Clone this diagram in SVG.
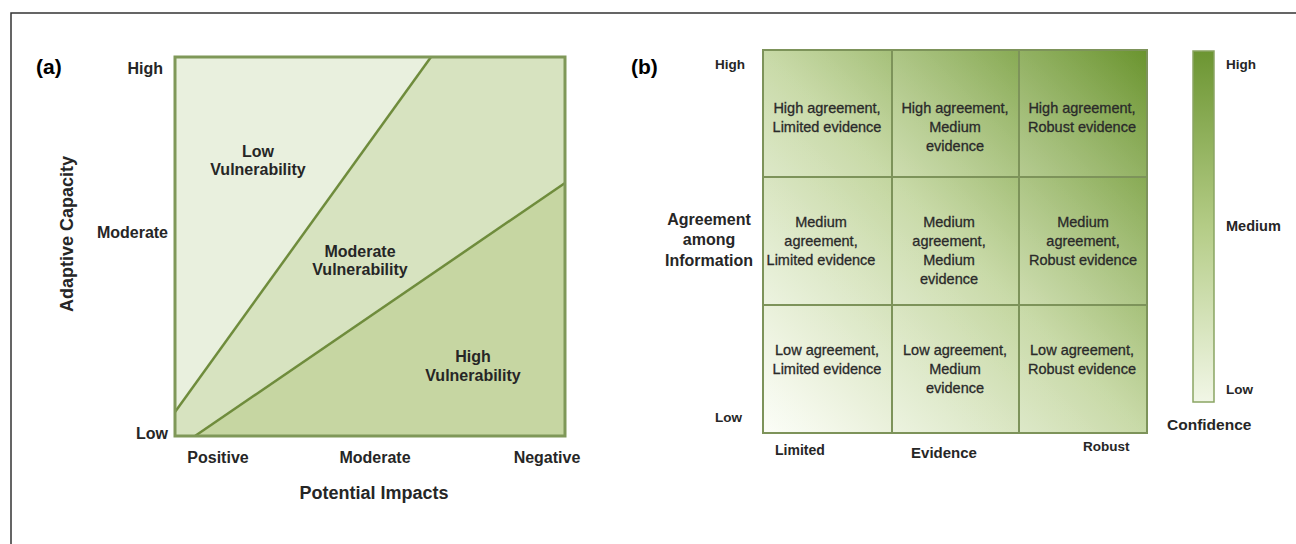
<svg xmlns="http://www.w3.org/2000/svg" width="1296" height="544" viewBox="0 0 1296 544">
<style>
.lbl{font-family:"Liberation Sans",Arial,sans-serif;font-weight:bold;fill:#262626}
.pan{font-family:"Liberation Sans",Arial,sans-serif;font-weight:bold;font-size:21px;fill:#000}
.cell{font-family:"Liberation Sans",Arial,sans-serif;font-size:14.5px;fill:#2a2a2a;stroke:#2a2a2a;stroke-width:0.3;text-anchor:middle}
.div{stroke:#6f8c3c;stroke-width:2.5;fill:none}
.grid{stroke:#7d935a;stroke-width:2;fill:none}
</style>
<defs>
<linearGradient id="gridGrad" x1="0" y1="1" x2="1" y2="0">
<stop offset="0" stop-color="#fbfdf6"/>
<stop offset="0.5" stop-color="#c3d69f"/>
<stop offset="1" stop-color="#6a942e"/>
</linearGradient>
<linearGradient id="cellGrad" x1="0" y1="1" x2="1" y2="0">
<stop offset="0" stop-color="#ffffff" stop-opacity="0.18"/>
<stop offset="1" stop-color="#ffffff" stop-opacity="0"/>
</linearGradient>
<linearGradient id="barGrad" x1="0" y1="0" x2="0" y2="1">
<stop offset="0" stop-color="#6c9532"/>
<stop offset="0.5" stop-color="#b4cc86"/>
<stop offset="1" stop-color="#f1f6e6"/>
</linearGradient>
</defs>
<rect x="0" y="0" width="1296" height="544" fill="#ffffff"/>
<rect id="frame" x="11" y="13" width="1300" height="540" fill="none" stroke="#333" stroke-width="1.5"/>

<g id="panel-a">
<text class="pan" x="36" y="74">(a)</text>
<g id="region-low">
<polygon points="175,57 431,57 175,412" fill="#e9f0de"/>
</g>
<g id="region-moderate">
<polygon points="431,57 565,57 565,183 195,436 175,436 175,412" fill="#d7e3c0"/>
</g>
<g id="region-high">
<polygon points="565,183 565,436 195,436" fill="#c6d6a2"/>
</g>
<g id="connectors-a">
<line class="div" x1="175" y1="412" x2="431" y2="57"/>
<line class="div" x1="195" y1="436" x2="565" y2="183"/>
</g>
<rect x="175" y="57" width="390" height="379" fill="none" stroke="#7f9858" stroke-width="3"/>
<text class="lbl" font-size="16" x="258" y="157" text-anchor="middle">Low</text>
<text class="lbl" font-size="16" x="258" y="175" text-anchor="middle">Vulnerability</text>
<text class="lbl" font-size="16" x="360" y="257" text-anchor="middle">Moderate</text>
<text class="lbl" font-size="16" x="360" y="275" text-anchor="middle">Vulnerability</text>
<text class="lbl" font-size="16" x="473" y="362" text-anchor="middle">High</text>
<text class="lbl" font-size="16" x="473" y="381" text-anchor="middle">Vulnerability</text>
<text class="lbl" font-size="16" x="163" y="74" text-anchor="end">High</text>
<text class="lbl" font-size="16" x="168" y="238" text-anchor="end">Moderate</text>
<text class="lbl" font-size="16" x="168" y="439" text-anchor="end">Low</text>
<text class="lbl" font-size="18" x="73" y="234" text-anchor="middle" transform="rotate(-90 73 234)">Adaptive Capacity</text>
<text class="lbl" font-size="16" x="218" y="463" text-anchor="middle">Positive</text>
<text class="lbl" font-size="16" x="375" y="463" text-anchor="middle">Moderate</text>
<text class="lbl" font-size="16" x="547" y="463" text-anchor="middle">Negative</text>
<text class="lbl" font-size="18" x="374" y="499" text-anchor="middle">Potential Impacts</text>
</g>

<g id="panel-b">
<text class="pan" x="631" y="74">(b)</text>
<rect x="763" y="50" width="384" height="383" fill="url(#gridGrad)"/>
<g id="cell-overlays" fill="url(#cellGrad)">
<rect x="763" y="50" width="129" height="127"/>
<rect x="892" y="50" width="127" height="127"/>
<rect x="1019" y="50" width="128" height="127"/>
<rect x="763" y="177" width="129" height="128"/>
<rect x="892" y="177" width="127" height="128"/>
<rect x="1019" y="177" width="128" height="128"/>
<rect x="763" y="305" width="129" height="128"/>
<rect x="892" y="305" width="127" height="128"/>
<rect x="1019" y="305" width="128" height="128"/>
</g>
<g id="grid-lines">
<rect class="grid" x="763" y="50" width="384" height="383"/>
<line class="grid" x1="892" y1="50" x2="892" y2="433"/>
<line class="grid" x1="1019" y1="50" x2="1019" y2="433"/>
<line class="grid" x1="763" y1="177" x2="1147" y2="177"/>
<line class="grid" x1="763" y1="305" x2="1147" y2="305"/>
</g>
<g id="cell-high-limited"><text class="cell" x="827" y="113">High agreement,</text><text class="cell" x="827" y="132">Limited evidence</text></g>
<g id="cell-high-medium"><text class="cell" x="955" y="113">High agreement,</text><text class="cell" x="955" y="132">Medium</text><text class="cell" x="955" y="151">evidence</text></g>
<g id="cell-high-robust"><text class="cell" x="1082" y="113">High agreement,</text><text class="cell" x="1082" y="132">Robust evidence</text></g>
<g id="cell-medium-limited"><text class="cell" x="821" y="227">Medium</text><text class="cell" x="821" y="246">agreement,</text><text class="cell" x="821" y="265">Limited evidence</text></g>
<g id="cell-medium-medium"><text class="cell" x="949" y="227">Medium</text><text class="cell" x="949" y="246">agreement,</text><text class="cell" x="949" y="265">Medium</text><text class="cell" x="949" y="284">evidence</text></g>
<g id="cell-medium-robust"><text class="cell" x="1083" y="227">Medium</text><text class="cell" x="1083" y="246">agreement,</text><text class="cell" x="1083" y="265">Robust evidence</text></g>
<g id="cell-low-limited"><text class="cell" x="827" y="355">Low agreement,</text><text class="cell" x="827" y="374">Limited evidence</text></g>
<g id="cell-low-medium"><text class="cell" x="955" y="355">Low agreement,</text><text class="cell" x="955" y="374">Medium</text><text class="cell" x="955" y="393">evidence</text></g>
<g id="cell-low-robust"><text class="cell" x="1082" y="355">Low agreement,</text><text class="cell" x="1082" y="374">Robust evidence</text></g>
<text class="lbl" font-size="13.5" x="715" y="69">High</text>
<text class="lbl" font-size="13.5" x="715" y="422">Low</text>
<text class="lbl" font-size="16" x="709" y="225" text-anchor="middle">Agreement</text>
<text class="lbl" font-size="16" x="709" y="245" text-anchor="middle">among</text>
<text class="lbl" font-size="16" x="709" y="266" text-anchor="middle">Information</text>
<text class="lbl" font-size="14" x="775" y="455">Limited</text>
<text class="lbl" font-size="15" x="944" y="458" text-anchor="middle">Evidence</text>
<text class="lbl" font-size="13.5" x="1083" y="451">Robust</text>
<g id="confidence-bar">
<rect x="1193" y="51" width="21" height="351" fill="url(#barGrad)" stroke="#8aa563" stroke-width="1.5"/>
<text class="lbl" font-size="13.5" x="1226" y="69">High</text>
<text class="lbl" font-size="14.5" x="1226" y="231">Medium</text>
<text class="lbl" font-size="13.5" x="1226" y="394">Low</text>
<text class="lbl" font-size="15.5" x="1167" y="430">Confidence</text>
</g>
</g>
</svg>
